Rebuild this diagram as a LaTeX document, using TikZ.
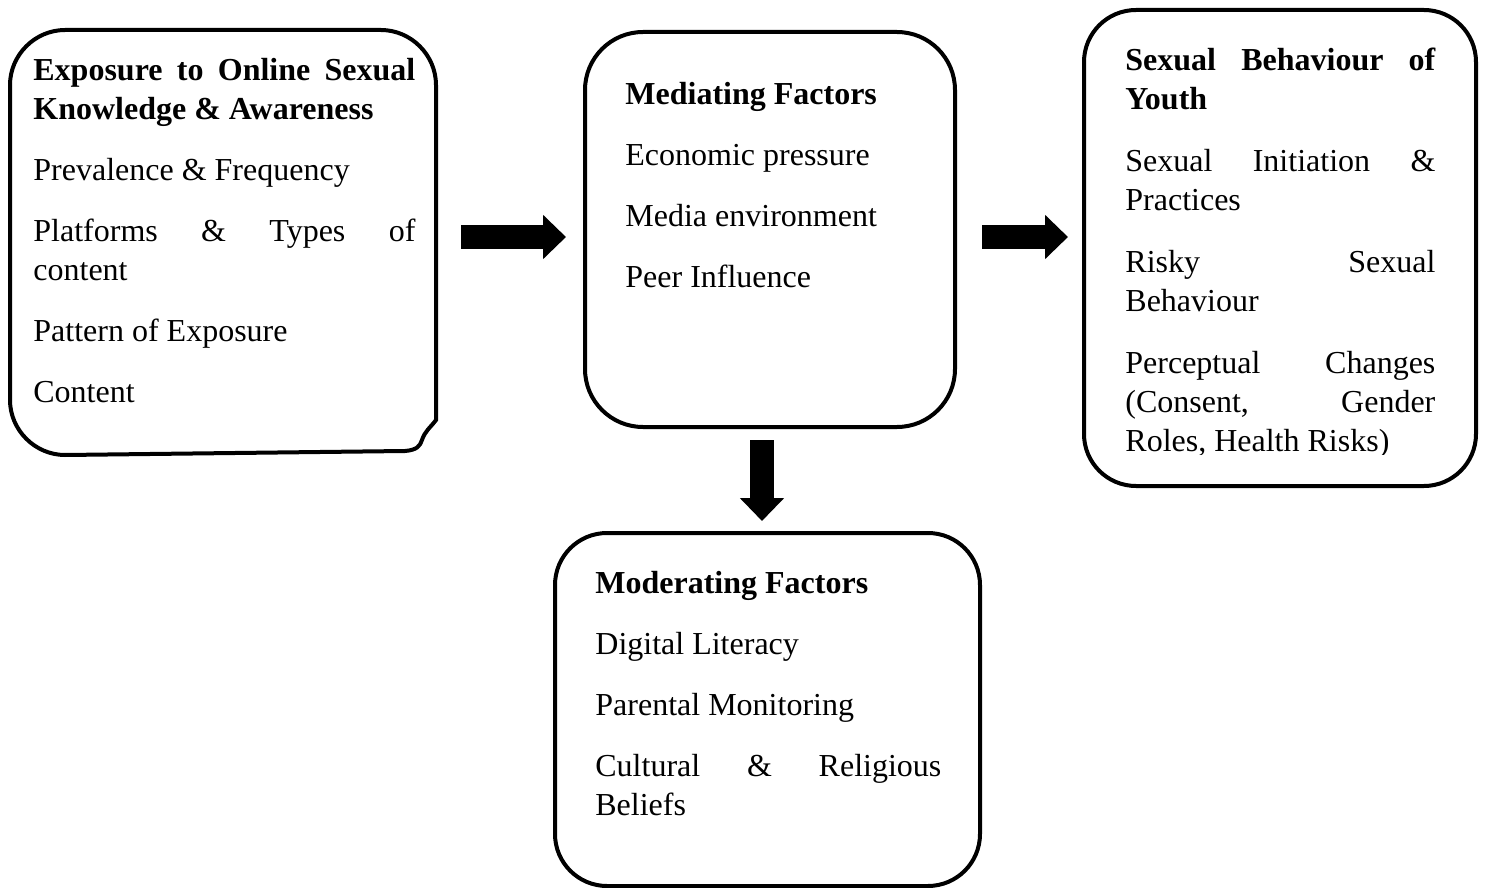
\documentclass[tikz,border=0pt]{standalone}
\usepackage{fontspec}
\setmainfont{Liberation Serif}
\usetikzlibrary{arrows.meta}

\begin{document}
\begin{tikzpicture}[x=0.5pt,y=-0.5pt,
	frame/.style={draw,line width=2pt,rounded corners=26pt,inner sep=0pt},
	txt/.style={anchor=base west,inner sep=0pt,align=justify,font=\fontsize{16}{19.5}\selectfont,
		execute at begin node={\setlength{\parskip}{11pt}\hyphenpenalty10000\exhyphenpenalty10000}},
	bigarrow/.style={line width=12pt,-{Triangle[width=21.5pt,length=11.5pt]}},
	]
	\useasboundingbox (0,0) rectangle (1485,888);
	\node[inner sep=0pt,minimum width=213pt,minimum height=212.5pt] (expo) at (223,242.5) {};
	\draw[line width=2pt] (436,420) -- (436,85) .. controls (436,55) and (411,30) .. (381,30)
		-- (65,30) .. controls (35,30) and (10,55) .. (10,85) -- (10,400)
		.. controls (10,430) and (35,455) .. (65,455) -- (405,451)
		.. controls (417,450) and (420,446) .. (422,440)
		.. controls (425,431) and (430,428) .. (436,420) -- cycle;
	\node[frame,minimum width=185pt,minimum height=197.5pt,rounded corners=29pt] (medi) at (770,229.5) {};
	\node[frame,minimum width=196pt,minimum height=238pt] (sexb) at (1280,248) {};
	\node[frame,minimum width=212.5pt,minimum height=176.5pt] (mode) at (767.5,709.5) {};
	\node[txt,text width=191pt] (expot) at (33,81) {\textbf{Exposure to Online Sexual\linebreak Knowledge \& Awareness}

		Prevalence \& Frequency

		Platforms \& Types of\linebreak content

		Pattern of Exposure

		Content};
	\node[txt,text width=145pt] (medit) at (625,105) {\textbf{Mediating Factors}

		Economic pressure

		Media environment

		Peer Influence};
	\begin{scope}
		\clip (1085,0) rectangle (1475,454);
		\node[txt,text width=155pt,execute at begin node={\setlength{\parskip}{11.5pt}}] (sexbt) at (1125,71) {\textbf{Sexual Behaviour of\linebreak Youth}

			Sexual Initiation \&\linebreak Practices

			Risky Sexual\linebreak Behaviour

			Perceptual Changes\linebreak (Consent, Gender\linebreak Roles, Health Risks)};
	\end{scope}
	\node[txt,text width=173pt] (modet) at (595,593) {\textbf{Moderating Factors}

		Digital Literacy

		Parental Monitoring

		Cultural \& Religious\linebreak Beliefs};
	\draw[bigarrow,shorten <=12.5pt,shorten >=8.5pt] ([yshift=2.75pt]expo.east) -- ([yshift=2.75pt]expo.east -| medi.west);
	\draw[bigarrow,shorten <=12.5pt,shorten >=7pt] ([yshift=-3.75pt]medi.east) -- ([yshift=-3.75pt]medi.east -| sexb.west);
	\draw[bigarrow,shorten <=5.5pt,shorten >=5pt] ([xshift=-4pt]medi.south) -- ([xshift=-4pt]medi.south |- mode.north);
\end{tikzpicture}
\end{document}
